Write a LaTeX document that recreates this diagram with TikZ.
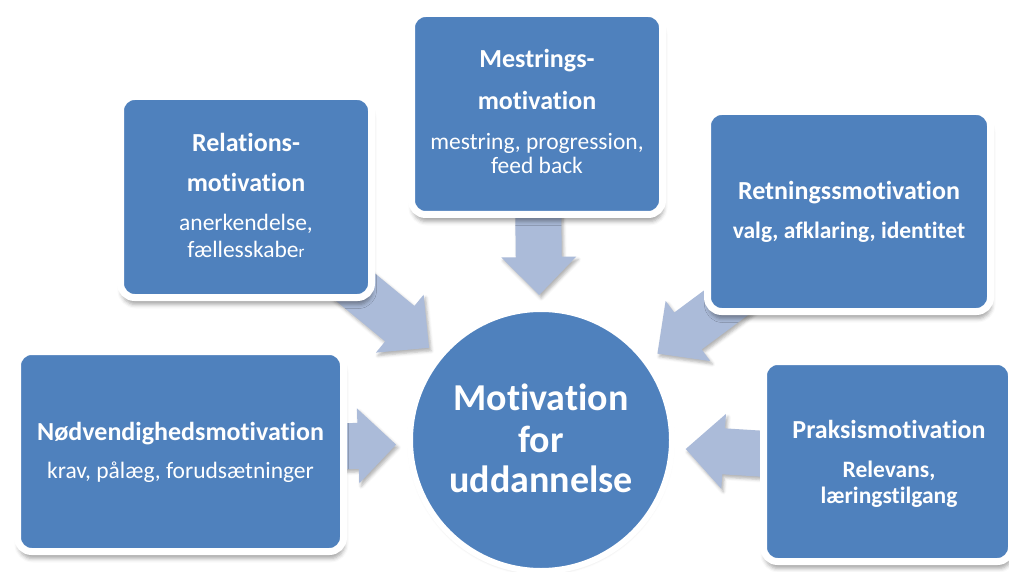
\documentclass[tikz,border=0pt]{standalone}
\usepackage{fontspec}
\setmainfont{Carlito}[Ligatures={NoCommon}]
\usetikzlibrary{calc,shadows.blur}
\definecolor{boxblue}{RGB}{79,129,189}
\definecolor{arrowblue}{RGB}{171,187,217}
\pgfdeclarelayer{background}
\pgfsetlayers{background,main}
\tikzset{
  box/.style={rectangle, rounded corners=14pt, fill=boxblue, draw=white, line width=7pt, inner sep=0pt,
    blur shadow={shadow xshift=1pt, shadow yshift=-7pt, shadow blur radius=4pt, shadow opacity=35}},
  hub/.style={circle, fill=boxblue, draw=white, line width=6pt, inner sep=0pt, minimum size=262pt,
    blur shadow={shadow xshift=0pt, shadow yshift=-2pt, shadow blur radius=3pt, shadow opacity=20}},
  ttl/.style={anchor=base, text=white, inner sep=0pt, font=\fontsize{26}{30}\selectfont\bfseries},
  sub/.style={anchor=base, text=white, inner sep=0pt, font=\fontsize{23.5}{28}\selectfont},
  subb/.style={anchor=base, text=white, inner sep=0pt, font=\fontsize{23.5}{28}\selectfont\bfseries},
  big/.style={anchor=base, text=white, inner sep=0pt, font=\fontsize{38}{44}\selectfont\bfseries},
  arrowfill/.style={fill=arrowblue,
    blur shadow={shadow xshift=2pt, shadow yshift=-3pt, shadow blur radius=3pt, shadow opacity=30}}
}
\newcommand{\bArrow}[2]{% #1 box node, #2 hub node
  \coordinate (#1-tip) at ($(#2.center)!145pt!(#1.center)$);
  \coordinate (#1-hb) at ($(#2.center)!183pt!(#1.center)$);
  \fill[arrowfill] ($(#1.center)!23pt!90:(#1-tip)$) -- ($(#1-hb)!23pt!90:(#1-tip)$)
    -- ($(#1-hb)!37.5pt!90:(#1-tip)$) -- (#1-tip) -- ($(#1-hb)!37.5pt!-90:(#1-tip)$)
    -- ($(#1-hb)!23pt!-90:(#1-tip)$) -- ($(#1.center)!23pt!-90:(#1-tip)$) -- cycle;}
\begin{document}
\begin{tikzpicture}[x=1pt, y=-1pt]
\useasboundingbox (0,0) rectangle (1009,572);
% hub
\node[hub] (mid) at (541,440) {};
% boxes
\node[box, minimum width=251pt, minimum height=201pt] (rel) at (246,197) {};
\node[box, minimum width=251pt, minimum height=201pt] (mes) at (537,114) {};
\node[box, minimum width=283pt, minimum height=200pt] (ret) at (849,211.5) {};
\node[box, minimum width=326pt, minimum height=200pt] (nod) at (180.5,451.5) {};
\node[box, minimum width=248pt, minimum height=200pt] (pra) at (887.5,461.5) {};
% arrows
\begin{pgfonlayer}{background}
\bArrow{rel}{mid}
\bArrow{mes}{mid}
\bArrow{ret}{mid}
\bArrow{nod}{mid}
\bArrow{pra}{mid}
\end{pgfonlayer}
% texts
\node[big] (mid-a) at (541,410) {Motivation};
\node[big] (mid-b) at (541,452) {for};
\node[big] (mid-c) at (541,492) {uddannelse};
\node[ttl] (rel-a) at (246,152) {Relations-};
\node[ttl] (rel-b) at (246,192) {motivation};
\node[sub] (rel-c) at (246,230) {anerkendelse,};
\node[sub] (rel-d) at (246,257) {fællesskabe{\fontsize{17}{20}\selectfont r}};
\node[ttl] (mes-a) at (537,68) {Mestrings-};
\node[ttl] (mes-b) at (537,110) {motivation};
\node[sub] (mes-c) at (537,150) {mestring, progression,};
\node[sub] (mes-d) at (537,174) {feed back};
\node[ttl] (ret-a) at (849,200) {Retningssmotivation};
\node[subb] (ret-b) at (849,238) {valg, afklaring, identitet};
\node[ttl] (nod-a) at (180.5,440) {Nødvendighedsmotivation};
\node[sub] (nod-b) at (180.5,478) {krav, pålæg, forudsætninger};
\node[ttl] (pra-a) at (889,438) {Praksismotivation};
\node[subb] (pra-b) at (889,477) {Relevans,};
\node[subb] (pra-c) at (889,503) {læringstilgang};
\end{tikzpicture}
\end{document}
